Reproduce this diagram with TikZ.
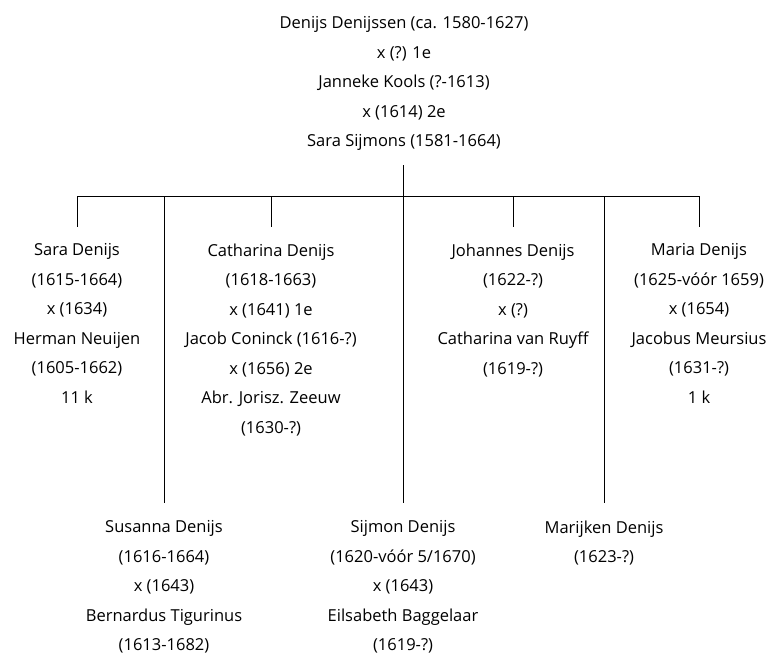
\documentclass[tikz,border=0pt]{standalone}
\usepackage{fontspec}
\setmainfont{Open Sans}
\begin{document}
\begin{tikzpicture}[x=1pt,y=-1pt,
  person/.style={align=center, anchor=north, inner sep=0pt,
    font=\fontsize{16.5}{29.5}\selectfont},
  link/.style={draw=black, line width=0.9pt},
  drop/.style={link, shorten >=16.5pt},
  longdrop/.style={link, shorten >=17.5pt}]
\useasboundingbox (0,0) rectangle (767,657);

% parents
\node[person] (parents) at (404,16.5)
  {Denijs Denijssen (ca. 1580-1627)\\x (?) 1e\\Janneke Kools (?-1613)\\x (1614) 2e\\Sara Sijmons (1581-1664)};

% children, upper row
\node[person] (sara) at (77,243.5)
  {Sara Denijs\\(1615-1664)\\x (1634)\\Herman Neuijen\\(1605-1662)\\11 k};
\node[person] (catharina) at (271,243.5)
  {Catharina Denijs\\(1618-1663)\\x (1641) 1e\\Jacob Coninck (1616-?)\\x (1656) 2e\\Abr. Jorisz. Zeeuw\\(1630-?)};
\node[person] (johannes) at (513,243.5)
  {Johannes Denijs\\(1622-?)\\x (?)\\Catharina van Ruyff\\(1619-?)};
\node[person] (maria) at (699,243.5)
  {Maria Denijs\\(1625-vóór 1659)\\x (1654)\\Jacobus Meursius\\(1631-?)\\1 k};

% children, lower row
\node[person] (susanna) at (164,520.5)
  {Susanna Denijs\\(1616-1664)\\x (1643)\\Bernardus Tigurinus\\(1613-1682)};
\node[person] (sijmon) at (403,520.5)
  {Sijmon Denijs\\(1620-vóór 5/1670)\\x (1643)\\Eilsabeth Baggelaar\\(1619-?)};
\node[person] (marijken) at (604,520.5)
  {Marijken Denijs\\(1623-?)};

% bus line and junctions
\coordinate (top) at (403,165);
\coordinate (hub) at (403,196);
\coordinate (bSara) at (77,196);
\coordinate (bSusanna) at (164,196);
\coordinate (bCatharina) at (271,196);
\coordinate (bJohannes) at (513,196);
\coordinate (bMarijken) at (604,196);
\coordinate (bMaria) at (699,196);

\draw[link] (top) -- (hub);
\draw[link] (bSara) -- (bMaria);
\draw[drop] (bSara) -- (sara.north);
\draw[drop] (bCatharina) -- (catharina.north);
\draw[drop] (bJohannes) -- (johannes.north);
\draw[drop] (bMaria) -- (maria.north);
\draw[longdrop] (bSusanna) -- (susanna.north);
\draw[longdrop] (hub) -- (sijmon.north);
\draw[longdrop] (bMarijken) -- (marijken.north);
\end{tikzpicture}
\end{document}
